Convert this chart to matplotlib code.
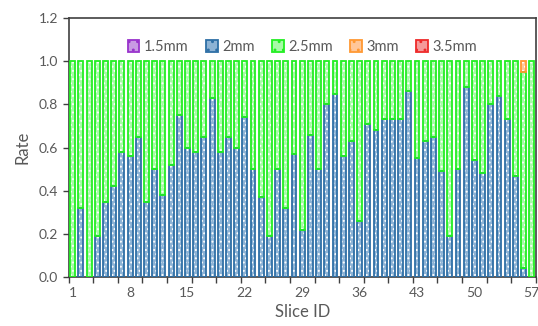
import matplotlib
matplotlib.use("Agg")
import matplotlib.pyplot as plt
import numpy as np

plt.rcParams['font.family'] = ['Lato', 'DejaVu Sans']
plt.rcParams['hatch.linewidth'] = 0.9

slice_ids = list(range(1, 58))
series_names = ["1.5mm", "2mm", "2.5mm", "3mm", "3.5mm"]

s15 = [0.0] * 57
s2 = [0, 0.32, 0, 0.19, 0.35, 0.42, 0.58, 0.56, 0.65, 0.35, 0.50, 0.38, 0.52, 0.75,
      0.60, 0.58, 0.65, 0.83, 0.58, 0.65, 0.60, 0.74, 0.50, 0.37, 0.19, 0.50, 0.32,
      0.57, 0.22, 0.66, 0.50, 0.80, 0.85, 0.56, 0.63, 0.26, 0.71, 0.68, 0.73, 0.73,
      0.73, 0.86, 0.55, 0.63, 0.65, 0.49, 0.19, 0.50, 0.88, 0.54, 0.48, 0.80, 0.84,
      0.73, 0.47, 0.04, 0]
s25 = [1.0, 0.68, 1.0, 0.81, 0.65, 0.58, 0.42, 0.44, 0.35, 0.65, 0.50, 0.62, 0.48,
       0.25, 0.40, 0.42, 0.35, 0.17, 0.42, 0.35, 0.40, 0.26, 0.50, 0.63, 0.81, 0.50,
       0.68, 0.43, 0.78, 0.34, 0.50, 0.20, 0.15, 0.44, 0.37, 0.74, 0.29, 0.32, 0.27,
       0.27, 0.27, 0.14, 0.45, 0.37, 0.35, 0.51, 0.81, 0.50, 0.12, 0.46, 0.52, 0.20,
       0.16, 0.27, 0.53, 0.91, 1.0]
s3 = [0.0] * 55 + [0.05, 0.0]
s35 = [0.0] * 57

x_tick_labels = ["1", "8", "15", "22", "29", "36", "43", "50", "57"]

edge_colors = ["#9933CC", "#2E6FA6", "#22EE22", "#FF9933", "#EE2A2A"]
face_colors = ["#C89AE3", "#8DB3D5", "#A8FAA8", "#FFC79A", "#F59A9A"]

fig = plt.figure(figsize=(5.38, 3.26), dpi=100)
ax = fig.add_axes([0.1275, 0.150, 0.8685, 0.795])

x = np.array(slice_ids, dtype=float)
bottom = np.zeros(len(x))
handles = []
for name, vals, ec, fc in zip(series_names, [s15, s2, s25, s3, s35], edge_colors, face_colors):
    v = np.array(vals, dtype=float)
    m = v > 0
    if m.any():
        ax.bar(x[m], v[m], bottom=bottom[m], width=0.6, facecolor=fc, edgecolor='white',
               linewidth=0, hatch='....', zorder=2)
        ax.bar(x[m], v[m], bottom=bottom[m], width=0.6, fill=False, edgecolor=ec,
               linewidth=1.3, zorder=3)
    bottom = bottom + v
    handles.append(plt.Rectangle((0, 0), 1, 1, facecolor=fc, edgecolor=ec,
                                 linewidth=1.3, hatch='..'))

ax.set_xlim(0.5, 57.5)
ax.set_ylim(0, 1.2)
ax.set_yticks(np.arange(0, 1.21, 0.2))
ax.set_yticklabels([f"{v:.1f}" for v in np.arange(0, 1.21, 0.2)])
ax.set_xticks([int(t) for t in x_tick_labels])
ax.set_xticklabels(x_tick_labels)
ax.set_xticks(np.arange(0.5, 57.6, 3), minor=True)
ax.tick_params(axis='x', which='major', length=0, pad=7, labelsize=10, labelcolor='#595959')
ax.tick_params(axis='x', which='minor', length=4, width=1, color='#404040', direction='out')
ax.tick_params(axis='y', length=4, width=1, color='#404040', labelsize=10, labelcolor='#595959')

for sp in ax.spines.values():
    sp.set_color('#404040')
    sp.set_linewidth(1.2)

ax.set_xlabel("Slice ID", fontsize=12, color='#595959', labelpad=4)
ax.set_ylabel("Rate", fontsize=12, color='#595959', labelpad=6)

ax.legend(handles, series_names, loc='upper center', bbox_to_anchor=(0.5, 0.965), ncol=5,
          frameon=False, fontsize=10.5, labelcolor='#595959', handlelength=0.8,
          handleheight=0.8, handletextpad=0.3, columnspacing=1.2)

fig.savefig("out.png", dpi=100)
